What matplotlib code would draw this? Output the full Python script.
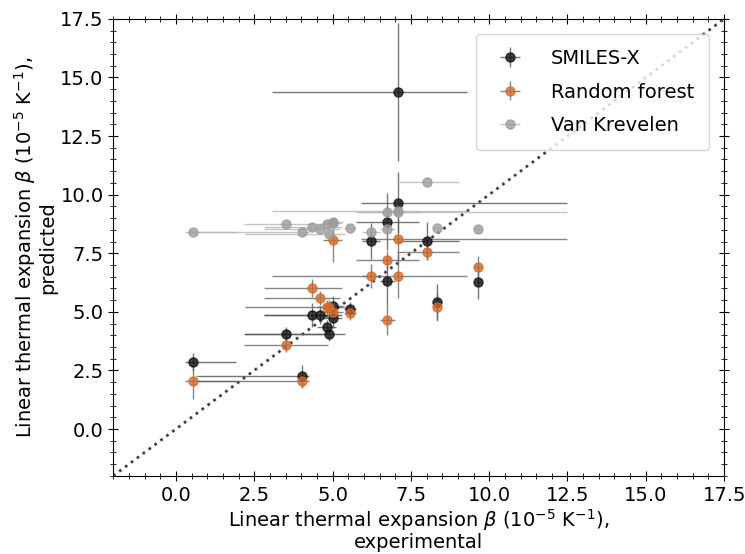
import numpy as np
import matplotlib
matplotlib.use("Agg")
import matplotlib.pyplot as plt
from matplotlib.ticker import AutoMinorLocator

# experimental values (shared x) and their asymmetric ranges
x_exp = [0.53, 4.04, 3.53, 4.34, 4.60, 4.81, 4.89, 5.02, 5.00, 5.55,
         6.23, 6.75, 6.75, 7.08, 7.08, 8.03, 8.33, 9.64]
x_lo = [0.25, 3.40, 1.35, 1.52, 1.78, 0.30, 2.70, 0.30, 0.30, 0.20,
        0.30, 1.01, 0.25, 1.18, 4.00, 0.98, 0.10, 0.10]
x_hi = [1.40, 0.20, 1.33, 0.95, 0.65, 0.30, 0.50, 0.30, 0.30, 0.20,
        0.30, 1.00, 0.25, 5.42, 2.20, 1.00, 0.10, 0.10]

# predictions
smilesx = [2.86, 2.26, 4.04, 4.86, 4.86, 4.37, 4.04, 5.26, 4.72, 5.10,
           8.02, 8.85, 6.30, 9.66, 14.38, 8.02, 5.42, 6.26]
smilesx_err = [0.40, 0.45, 0.30, 0.50, 0.40, 0.30, 0.30, 0.40, 0.40, 0.30,
               0.75, 1.20, 1.00, 1.30, 2.95, 0.80, 0.77, 0.70]
rforest = [2.03, 2.03, 3.57, 6.02, 5.60, 5.22, 5.22, 5.00, 8.06, 4.95,
           6.53, 7.21, 4.65, 8.10, 6.53, 7.55, 5.22, 6.90]
rforest_err = [0.75, 0.30, 0.30, 0.40, 0.30, 0.30, 0.30, 0.30, 0.95, 0.30,
               0.50, 0.40, 0.65, 0.90, 0.95, 0.30, 0.60, 0.50]
vankrev = [8.39, 8.39, 8.73, 8.60, 8.52, 8.75, 8.30, 8.85, 8.80, 8.56,
           8.42, 9.27, 8.52, 9.27, 9.30, 10.54, 8.59, 8.52]

xerr = [x_lo, x_hi]

fig = plt.figure(figsize=(7.45, 5.54), dpi=100)
ax = fig.add_axes([0.152, 0.141, 0.820, 0.825])

ax.plot([-2, 17.5], [-2, 17.5], ':', color='#3c4150', lw=2, zorder=0)

ax.errorbar(x_exp, smilesx, xerr=xerr, yerr=smilesx_err, fmt='o', color='#111111',
            ecolor='#555555', ms=6.5, elinewidth=1, alpha=0.8, label='SMILES-X')
ax.errorbar(x_exp, rforest, xerr=xerr, yerr=rforest_err, fmt='o', color=(0.82, 0.42, 0.16),
            ecolor='#666666', ms=6.5, elinewidth=1, alpha=0.8, label='Random forest')
ax.errorbar(x_exp, vankrev, xerr=xerr, fmt='o', color='#9c9c9c',
            ecolor='#b5b5b5', ms=6.5, elinewidth=1, alpha=0.8, label='Van Krevelen')

ax.set_xlim(-2, 17.5)
ax.set_ylim(-2, 17.5)
ax.set_xticks(np.arange(0, 17.6, 2.5))
ax.set_yticks(np.arange(0, 17.6, 2.5))
ax.xaxis.set_minor_locator(AutoMinorLocator())
ax.yaxis.set_minor_locator(AutoMinorLocator())
ax.tick_params(which='major', direction='inout', length=7, top=True, right=True, labelsize=14)
ax.tick_params(which='minor', direction='inout', length=4, top=True, right=True)

ax.set_xlabel('Linear thermal expansion $\\beta$ (10$^{-5}$ K$^{-1}$),\nexperimental',
              fontsize=14, linespacing=1.0, labelpad=2)
ax.set_ylabel('Linear thermal expansion $\\beta$ (10$^{-5}$ K$^{-1}$),\npredicted',
              fontsize=14, linespacing=1.0, labelpad=2)

ax.legend(loc='upper right', fontsize=14, labelspacing=0.75, handletextpad=1.1,
          borderaxespad=0.8, borderpad=0.75)

fig.savefig('out.png', dpi=100)
